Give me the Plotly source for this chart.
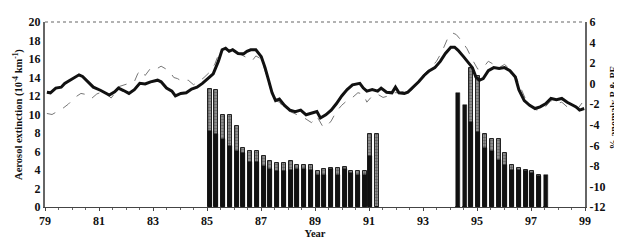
import plotly.graph_objects as go

# ---- thick black line (% anomaly, right axis) ----
thick_years = [79.07, 79.20, 79.40, 79.60, 79.73, 79.93, 80.13, 80.26, 80.39, 80.59, 80.79, 81.05,
               81.25, 81.38, 81.58, 81.72, 81.91, 82.11, 82.31, 82.51, 82.71, 82.91, 83.17, 83.30,
               83.50, 83.70, 83.83, 84.03, 84.23, 84.43, 84.63, 84.83, 85.03, 85.23, 85.42, 85.56,
               85.69, 85.82, 85.95, 86.15, 86.35, 86.48, 86.62, 86.81, 87.01, 87.15, 87.28, 87.41,
               87.54, 87.68, 87.87, 88.07, 88.27, 88.47, 88.67, 88.87, 89.07, 89.20, 89.40, 89.60,
               89.79, 89.99, 90.19, 90.39, 90.66, 90.79, 90.92, 91.12, 91.32, 91.45, 91.65, 91.85,
               91.98, 92.11, 92.31, 92.44, 92.64, 92.84, 93.04, 93.24, 93.44, 93.64, 93.83, 94.03,
               94.17, 94.30, 94.50, 94.70, 94.83, 94.96, 95.09, 95.23, 95.42, 95.62, 95.82, 96.02,
               96.22, 96.42, 96.55, 96.75, 96.95, 97.15, 97.34, 97.54, 97.74, 97.94, 98.14, 98.34,
               98.54, 98.67, 98.80, 98.97]
thick_vals = [-0.83, -0.89, -0.43, -0.34, 0.03, 0.34, 0.64, 0.86, 0.70, 0.18, -0.34, -0.64,
              -0.89, -1.10, -0.80, -0.43, -0.67, -0.95, -0.58, 0.03, -0.03, 0.18, 0.34, 0.18,
              -0.43, -0.73, -1.19, -0.95, -0.89, -0.52, -0.34, 0.03, 0.49, 0.95, 2.17, 3.30,
              3.45, 3.15, 3.30, 2.93, 2.90, 3.15, 3.30, 3.30, 2.63, 1.56, 0.34, -0.89,
              -1.65, -1.50, -2.11, -2.57, -2.72, -2.57, -3.03, -2.88, -2.72, -3.34, -3.03, -2.57,
              -1.96, -1.19, -0.58, -0.12, 0.03, -0.43, -0.73, -0.58, -0.73, -0.43, -0.83, -0.89,
              -0.34, -0.89, -0.95, -0.83, -0.34, 0.18, 0.80, 1.26, 1.56, 2.17, 2.94, 3.55,
              3.55, 3.25, 2.63, 2.02, 1.56, 0.64, 0.34, 0.49, 1.26, 1.56, 1.47, 1.56,
              1.26, 0.64, -0.58, -1.65, -2.11, -2.42, -2.26, -1.96, -1.44, -1.56, -1.44, -1.81,
              -2.11, -2.26, -2.57, -2.42]

# ---- thin dashed grey line (% anomaly, right axis) ----
grey_years = [79.07, 79.26, 79.46, 79.66, 79.86, 80.13, 80.33, 80.52, 80.72, 80.92, 81.12, 81.32,
              81.45, 81.58, 81.72, 81.91, 82.11, 82.31, 82.44, 82.58, 82.71, 82.91, 83.11, 83.30,
              83.50, 83.64, 83.77, 83.90, 84.10, 84.30, 84.50, 84.70, 84.89, 85.09, 85.29, 85.42,
              85.56, 85.75, 85.95, 86.15, 86.35, 86.48, 86.68, 86.81, 87.01, 87.15, 87.28, 87.41,
              87.54, 87.68, 87.87, 88.07, 88.34, 88.60, 88.87, 89.07, 89.27, 89.40, 89.60, 89.79,
              89.99, 90.19, 90.39, 90.59, 90.79, 90.92, 91.12, 91.32, 91.52, 91.72, 91.91, 92.11,
              92.31, 92.51, 92.71, 92.90, 93.10, 93.30, 93.50, 93.70, 93.90, 94.10, 94.23, 94.43,
              94.63, 94.83, 95.03, 95.23, 95.42, 95.62, 95.82, 96.02, 96.22, 96.42, 96.62, 96.82,
              97.01, 97.21, 97.48, 97.74, 97.94, 98.14, 98.34, 98.54, 98.74, 98.97]
grey_vals = [-2.90, -3.00, -2.70, -2.40, -2.00, -1.30, -0.95, -1.05, -1.45, -1.00, -0.80, -1.10,
             -1.40, -0.95, -0.30, -0.15, 0.00, 0.20, 1.00, 1.30, 0.80, 1.50, 1.40, 1.70,
             1.40, 1.10, 0.60, 0.50, 0.20, 0.35, -0.10, 0.20, 0.60, 1.10, 1.90, 2.80,
             3.40, 3.25, 3.40, 3.00, 2.70, 2.55, 2.25, 2.70, 2.40, 1.26, 0.04, -1.03,
             -1.64, -1.80, -2.41, -2.71, -3.02, -3.33, -3.79, -3.17, -4.09, -4.24, -3.63, -2.71,
             -2.10, -1.64, -1.34, -0.88, -1.03, -1.80, -1.19, -1.03, -1.34, -1.19, -0.88, -0.88,
             -0.73, -0.88, -0.12, 0.50, 1.11, 1.57, 2.18, 3.10, 4.32, 4.93, 4.78, 4.17,
             3.40, 2.33, 1.41, 1.57, 2.18, 1.87, 1.57, 1.87, 1.41, 0.80, -0.42, -1.64,
             -2.26, -2.56, -2.41, -1.64, -1.95, -1.80, -2.26, -2.41, -2.41, -1.60]

# ---- aerosol extinction bars (left axis) ----
bar_years = [85.10, 85.35, 85.60, 85.85, 86.10, 86.35, 86.60, 86.85, 87.10, 87.35, 87.60, 87.85,
             88.10, 88.35, 88.60, 88.85, 89.10, 89.35, 89.60, 89.85, 90.10, 90.35, 90.60, 90.85,
             91.05, 91.30,
             94.30, 94.55, 94.78, 95.02, 95.30, 95.55, 95.80, 96.05, 96.30, 96.55, 96.80, 97.05,
             97.30, 97.55]
hatched_vals = [12.76, 12.62, 9.97, 9.97, 8.71, 6.33, 6.05, 6.05, 5.54, 4.93, 4.80, 4.80,
                4.93, 4.52, 4.52, 4.52, 3.84, 4.11, 4.18, 4.18, 4.35, 3.84, 3.91, 3.91,
                7.86, 7.93,
                0, 0, 15.0, 14.2, 7.93, 7.31, 7.31, 5.88, 4.59, 4.18, 4.01, 3.84,
                3.50, 0]
black_vals = [8.27, 7.86, 7.31, 6.56, 6.05, 5.89, 4.87, 4.87, 4.46, 4.11, 3.85, 3.85,
              4.01, 4.11, 4.11, 4.01, 3.50, 3.50, 4.11, 3.50, 4.11, 3.67, 3.50, 3.50,
              5.54, 0,
              12.3, 11.0, 9.15, 8.10, 6.39, 6.05, 5.03, 4.52, 4.01, 4.01, 3.84, 3.67,
              3.33, 3.45]

left_ticks = [0, 2, 4, 6, 8, 10, 12, 14, 16, 18, 20]
right_ticks = [-12, -10, -8, -6, -4, -2, 0, 2, 4, 6]
right_labels = ["-12", "-10", "-8", "-6", "-4", "-2", "0", "2", "4", "6"]
x_ticks = [79, 81, 83, 85, 87, 89, 91, 93, 95, 97, 99]

FONT = "Liberation Serif"

fig = go.Figure()
fig.add_trace(go.Bar(x=bar_years, y=hatched_vals, width=0.15,
                     marker=dict(color="#8a8a8a", line=dict(color="#222", width=1),
                                 pattern=dict(shape=".", fgcolor="#222", bgcolor="#9a9a9a",
                                              size=3, solidity=0.5)),
                     yaxis="y", showlegend=False))
fig.add_trace(go.Bar(x=bar_years, y=black_vals, width=0.15,
                     marker=dict(color="#111", line=dict(color="#111", width=0.5)),
                     yaxis="y", showlegend=False))
fig.add_trace(go.Scatter(x=grey_years, y=grey_vals, mode="lines", yaxis="y2",
                         line=dict(color="#777", width=1, dash="dash"), showlegend=False))
fig.add_trace(go.Scatter(x=thick_years, y=thick_vals, mode="lines", yaxis="y2",
                         line=dict(color="#111", width=3), showlegend=False))

tickfont = dict(family=FONT, size=12, color="#111", weight="bold")
titlefont = dict(family=FONT, size=10.5, color="#111", weight="bold")

# The page body has a default 8 px margin, so the figure is sized to fit the window.
fig.update_layout(
    width=614, height=235,
    margin=dict(l=37, r=37, t=7, b=32),
    paper_bgcolor="white", plot_bgcolor="white",
    barmode="overlay", bargap=0,
    xaxis=dict(range=[79, 99], tickvals=x_ticks, ticktext=[str(v) for v in x_ticks],
               showgrid=False, zeroline=False, showline=True, linecolor="#444", linewidth=1,
               ticks="outside", ticklen=3, tickcolor="#444", tickfont=tickfont,
               minor=dict(dtick=0.5, ticks="outside", ticklen=2, tickcolor="#666"),
               title=dict(text="Year", font=titlefont, standoff=0)),
    yaxis=dict(range=[0, 20], tickvals=left_ticks, showgrid=False, zeroline=False,
               showline=True, linecolor="#666", linewidth=2, ticks="", tickfont=tickfont,
               title=dict(text="Aerosol extinction (10<sup>-4</sup> km<sup>-1</sup>)",
                          font=titlefont, standoff=4)),
    yaxis2=dict(range=[-12, 6], tickvals=right_ticks, ticktext=right_labels,
                overlaying="y", side="right",
                showgrid=False, zeroline=False, showline=True, linecolor="#666", linewidth=2,
                ticks="", tickfont=tickfont),
    shapes=[dict(type="line", xref="paper", yref="paper", x0=0, x1=1, y0=1, y1=1,
                 line=dict(color="#666", width=1.2, dash="dot"))],
    annotations=[dict(text="% anomaly P & PE", xref="paper", yref="paper",
                      x=1.052, y=0.54, xanchor="center", yanchor="middle",
                      textangle=-90, showarrow=False,
                      font=dict(family=FONT, size=10, color="#111", weight="bold"))],
)

fig.write_html("out.html")
